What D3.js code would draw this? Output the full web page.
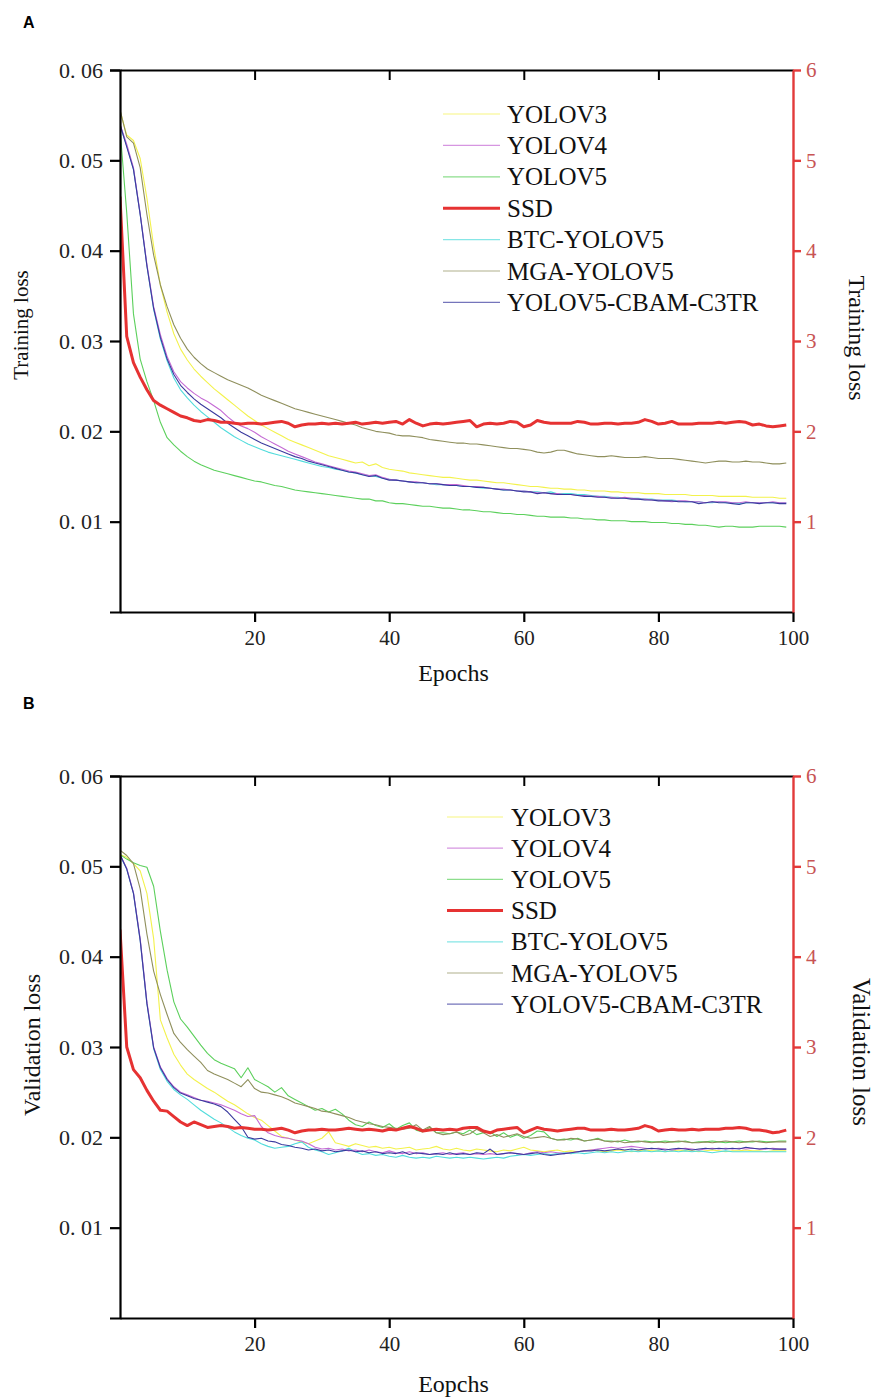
<!DOCTYPE html>
<html><head><meta charset="utf-8">
<script src="https://cdn.jsdelivr.net/npm/d3@7"></script>
<style>body{margin:0;background:#fff;} svg{display:block;}</style>
</head><body><svg id="chart" width="875" height="1397"></svg>
<script>
const seriesNames = ["YOLOV3","YOLOV4","YOLOV5","SSD","BTC-YOLOV5","MGA-YOLOV5","YOLOV5-CBAM-C3TR"];
const seriesColors = ["#f3f24c","#c46ad4","#5cd05c","#e63232","#52dcdc","#8f8f5c","#3a3a9e"];
const leftTicks = [0.01,0.02,0.03,0.04,0.05,0.06];
const leftTickLabels = ["0. 01","0. 02","0. 03","0. 04","0. 05","0. 06"];
const rightTicks = [1,2,3,4,5,6];
const xTicks = [20,40,60,80,100];

// ---- Training loss (A) ----
const trainYOLOV3 = [0.0555,0.0528,0.0522,0.0502,0.0458,0.0405,0.0362,0.0332,0.0308,0.0291,0.0279,0.0269,0.0261,0.0254,0.0247,0.0241,0.0235,0.0229,0.0223,0.0217,
0.0212,0.0207,0.0203,0.0199,0.0195,0.0191,0.0188,0.0185,0.0182,0.0179,0.0176,0.0173,0.0171,0.0169,0.0167,0.0165,0.0166,0.0162,0.0164,0.0160,
0.0158,0.0157,0.0156,0.0154,0.0153,0.0152,0.0151,0.0150,0.0149,0.0149,0.0148,0.0147,0.0146,0.0146,0.0145,0.0144,0.0143,0.0143,0.0142,0.0141,
0.0140,0.0139,0.0139,0.0138,0.0137,0.0137,0.0136,0.0136,0.0135,0.0135,0.0134,0.0134,0.0134,0.0133,0.0133,0.0132,0.0132,0.0132,0.0131,0.0131,
0.0131,0.0130,0.0130,0.0130,0.0130,0.0129,0.0129,0.0129,0.0129,0.0128,0.0128,0.0128,0.0128,0.0128,0.0127,0.0127,0.0127,0.0127,0.0126,0.0126];
const trainYOLOV4 = [0.0540,0.0518,0.0492,0.0441,0.0385,0.0338,0.0307,0.0283,0.0266,0.0255,0.0248,0.0242,0.0237,0.0233,0.0228,0.0223,0.0216,0.0210,0.0206,0.0203,
0.0199,0.0194,0.0190,0.0186,0.0182,0.0178,0.0175,0.0172,0.0169,0.0166,0.0164,0.0162,0.0160,0.0158,0.0156,0.0155,0.0153,0.0151,0.0152,0.0149,
0.0147,0.0146,0.0145,0.0144,0.0144,0.0143,0.0142,0.0142,0.0141,0.0141,0.0141,0.0140,0.0139,0.0139,0.0138,0.0137,0.0136,0.0136,0.0135,0.0134,
0.0134,0.0133,0.0132,0.0132,0.0131,0.0131,0.0130,0.0130,0.0129,0.0129,0.0128,0.0128,0.0127,0.0127,0.0126,0.0127,0.0126,0.0125,0.0125,0.0124,
0.0124,0.0123,0.0122,0.0123,0.0123,0.0122,0.0122,0.0121,0.0122,0.0122,0.0122,0.0121,0.0121,0.0122,0.0121,0.0121,0.0121,0.0122,0.0121,0.0121];
const trainYOLOV5 = [0.0535,0.0442,0.0330,0.0280,0.0255,0.0234,0.0210,0.0193,0.0185,0.0178,0.0172,0.0167,0.0163,0.0160,0.0157,0.0155,0.0153,0.0151,0.0149,0.0147,
0.0145,0.0144,0.0142,0.0140,0.0139,0.0137,0.0135,0.0134,0.0133,0.0132,0.0131,0.0130,0.0129,0.0128,0.0127,0.0126,0.0125,0.0125,0.0123,0.0123,
0.0121,0.0120,0.0120,0.0119,0.0118,0.0117,0.0117,0.0116,0.0115,0.0115,0.0114,0.0113,0.0113,0.0112,0.0111,0.0111,0.0110,0.0109,0.0109,0.0108,
0.0108,0.0107,0.0106,0.0106,0.0105,0.0105,0.0105,0.0104,0.0104,0.0103,0.0103,0.0102,0.0102,0.0101,0.0101,0.0101,0.0100,0.0100,0.0100,0.0099,
0.0099,0.0099,0.0098,0.0098,0.0097,0.0097,0.0096,0.0096,0.0095,0.0094,0.0095,0.0095,0.0094,0.0094,0.0094,0.0095,0.0095,0.0095,0.0095,0.0094];
const trainSSD = [4.60,3.05,2.76,2.60,2.46,2.34,2.29,2.25,2.21,2.17,2.15,2.12,2.11,2.13,2.12,2.10,2.10,2.09,2.08,2.09,
2.09,2.08,2.09,2.10,2.11,2.09,2.05,2.07,2.08,2.08,2.09,2.08,2.09,2.08,2.09,2.10,2.08,2.09,2.10,2.09,
2.10,2.11,2.08,2.13,2.09,2.06,2.08,2.09,2.08,2.09,2.10,2.11,2.12,2.05,2.08,2.09,2.08,2.09,2.11,2.10,
2.05,2.07,2.12,2.10,2.09,2.09,2.09,2.09,2.11,2.10,2.08,2.08,2.09,2.09,2.08,2.09,2.09,2.10,2.13,2.11,
2.08,2.09,2.11,2.08,2.08,2.08,2.09,2.09,2.09,2.10,2.09,2.10,2.11,2.10,2.07,2.08,2.06,2.05,2.06,2.07];
const trainBTC = [0.0538,0.0516,0.0490,0.0440,0.0383,0.0335,0.0302,0.0278,0.0259,0.0246,0.0237,0.0229,0.0222,0.0216,0.0210,0.0204,0.0199,0.0194,0.0190,0.0186,
0.0183,0.0180,0.0177,0.0175,0.0173,0.0171,0.0169,0.0167,0.0165,0.0163,0.0161,0.0160,0.0158,0.0157,0.0155,0.0154,0.0152,0.0151,0.0150,0.0148,
0.0147,0.0146,0.0145,0.0144,0.0143,0.0143,0.0142,0.0141,0.0141,0.0140,0.0140,0.0139,0.0139,0.0138,0.0137,0.0137,0.0136,0.0135,0.0135,0.0134,
0.0134,0.0133,0.0133,0.0132,0.0133,0.0131,0.0131,0.0131,0.0130,0.0130,0.0129,0.0128,0.0128,0.0127,0.0127,0.0126,0.0126,0.0126,0.0125,0.0125,
0.0124,0.0124,0.0124,0.0123,0.0122,0.0122,0.0122,0.0121,0.0121,0.0122,0.0121,0.0121,0.0120,0.0121,0.0121,0.0121,0.0121,0.0121,0.0121,0.0121];
const trainMGA = [0.0556,0.0526,0.0519,0.0492,0.0440,0.0395,0.0362,0.0338,0.0318,0.0303,0.0291,0.0282,0.0275,0.0269,0.0265,0.0261,0.0257,0.0254,0.0251,0.0248,
0.0244,0.0240,0.0237,0.0234,0.0231,0.0228,0.0225,0.0223,0.0221,0.0219,0.0217,0.0215,0.0213,0.0211,0.0209,0.0207,0.0204,0.0202,0.0200,0.0199,
0.0198,0.0196,0.0195,0.0195,0.0194,0.0193,0.0191,0.0190,0.0189,0.0188,0.0187,0.0187,0.0186,0.0186,0.0185,0.0184,0.0183,0.0182,0.0181,0.0181,
0.0180,0.0179,0.0177,0.0176,0.0177,0.0179,0.0179,0.0177,0.0175,0.0174,0.0173,0.0172,0.0172,0.0173,0.0172,0.0171,0.0171,0.0171,0.0172,0.0171,
0.0170,0.0170,0.0170,0.0169,0.0168,0.0167,0.0166,0.0165,0.0166,0.0167,0.0167,0.0166,0.0166,0.0167,0.0166,0.0166,0.0165,0.0164,0.0164,0.0165];
const trainCBAM = [0.0540,0.0515,0.0490,0.0440,0.0383,0.0336,0.0304,0.0280,0.0263,0.0251,0.0243,0.0236,0.0230,0.0225,0.0220,0.0215,0.0209,0.0204,0.0199,0.0195,
0.0191,0.0187,0.0184,0.0181,0.0178,0.0175,0.0172,0.0170,0.0167,0.0165,0.0163,0.0161,0.0159,0.0157,0.0155,0.0154,0.0152,0.0150,0.0151,0.0148,
0.0146,0.0146,0.0145,0.0144,0.0143,0.0143,0.0142,0.0142,0.0141,0.0140,0.0140,0.0139,0.0139,0.0138,0.0138,0.0137,0.0136,0.0135,0.0135,0.0134,
0.0133,0.0133,0.0131,0.0132,0.0131,0.0130,0.0130,0.0130,0.0129,0.0128,0.0128,0.0127,0.0127,0.0126,0.0126,0.0126,0.0125,0.0125,0.0124,0.0124,
0.0123,0.0123,0.0123,0.0122,0.0122,0.0122,0.0120,0.0121,0.0122,0.0121,0.0121,0.0120,0.0119,0.0121,0.0121,0.0120,0.0121,0.0121,0.0120,0.0120];

// ---- Validation loss (B) ----
const valYOLOV3 = [0.0513,0.0510,0.0503,0.0495,0.0470,0.0420,0.0330,0.0310,0.0292,0.0280,0.0270,0.0264,0.0259,0.0254,0.0250,0.0245,0.0240,0.0236,0.0231,0.0226,
0.0222,0.0219,0.0213,0.0207,0.0201,0.0199,0.0197,0.0195,0.0193,0.0196,0.0199,0.0206,0.0194,0.0192,0.0190,0.0193,0.0191,0.0189,0.0190,0.0188,
0.0189,0.0187,0.0188,0.0189,0.0186,0.0187,0.0188,0.0190,0.0187,0.0186,0.0188,0.0186,0.0185,0.0187,0.0186,0.0185,0.0184,0.0186,0.0185,0.0187,
0.0189,0.0186,0.0185,0.0184,0.0185,0.0186,0.0184,0.0185,0.0184,0.0185,0.0186,0.0185,0.0184,0.0185,0.0186,0.0185,0.0184,0.0185,0.0186,0.0185,
0.0185,0.0184,0.0185,0.0186,0.0185,0.0185,0.0184,0.0185,0.0186,0.0185,0.0184,0.0185,0.0185,0.0186,0.0185,0.0185,0.0184,0.0185,0.0185,0.0185];
const valYOLOV4 = [0.0513,0.0498,0.0471,0.0420,0.0350,0.0300,0.0278,0.0265,0.0256,0.0250,0.0247,0.0244,0.0241,0.0240,0.0238,0.0236,0.0233,0.0230,0.0226,0.0223,
0.0224,0.0212,0.0205,0.0202,0.0200,0.0199,0.0197,0.0196,0.0193,0.0189,0.0187,0.0188,0.0186,0.0187,0.0185,0.0186,0.0184,0.0186,0.0184,0.0183,
0.0185,0.0183,0.0182,0.0184,0.0182,0.0183,0.0181,0.0182,0.0183,0.0181,0.0182,0.0183,0.0181,0.0182,0.0181,0.0182,0.0181,0.0182,0.0183,0.0182,
0.0181,0.0183,0.0184,0.0183,0.0184,0.0183,0.0182,0.0183,0.0184,0.0185,0.0186,0.0187,0.0188,0.0189,0.0188,0.0189,0.0190,0.0189,0.0188,0.0187,
0.0188,0.0187,0.0186,0.0187,0.0188,0.0187,0.0186,0.0187,0.0188,0.0187,0.0188,0.0187,0.0188,0.0187,0.0188,0.0187,0.0187,0.0188,0.0187,0.0187];
const valYOLOV5 = [0.0513,0.0508,0.0504,0.0501,0.0499,0.0478,0.0428,0.0385,0.0350,0.0331,0.0322,0.0312,0.0302,0.0293,0.0286,0.0282,0.0279,0.0276,0.0266,0.0277,
0.0264,0.0260,0.0256,0.0250,0.0255,0.0246,0.0242,0.0238,0.0234,0.0230,0.0232,0.0228,0.0231,0.0226,0.0219,0.0214,0.0212,0.0217,0.0213,0.0211,
0.0215,0.0209,0.0213,0.0216,0.0208,0.0206,0.0211,0.0205,0.0205,0.0204,0.0206,0.0204,0.0208,0.0203,0.0205,0.0206,0.0201,0.0205,0.0200,0.0203,
0.0199,0.0202,0.0207,0.0206,0.0199,0.0197,0.0198,0.0197,0.0199,0.0196,0.0197,0.0199,0.0196,0.0196,0.0195,0.0197,0.0195,0.0195,0.0196,0.0195,
0.0195,0.0196,0.0195,0.0195,0.0196,0.0194,0.0195,0.0195,0.0196,0.0195,0.0194,0.0195,0.0196,0.0195,0.0195,0.0196,0.0195,0.0195,0.0196,0.0196];
const valSSD = [4.30,3.00,2.75,2.66,2.52,2.40,2.30,2.29,2.23,2.17,2.13,2.17,2.14,2.11,2.12,2.13,2.12,2.10,2.11,2.10,
2.09,2.09,2.08,2.09,2.10,2.08,2.05,2.07,2.08,2.08,2.09,2.08,2.08,2.09,2.10,2.09,2.08,2.09,2.08,2.07,
2.09,2.08,2.10,2.12,2.10,2.07,2.08,2.09,2.08,2.09,2.08,2.10,2.11,2.11,2.07,2.05,2.08,2.09,2.10,2.11,
2.05,2.08,2.11,2.09,2.08,2.07,2.08,2.09,2.10,2.10,2.08,2.08,2.08,2.09,2.08,2.08,2.09,2.10,2.13,2.11,
2.07,2.08,2.09,2.08,2.08,2.09,2.08,2.09,2.09,2.09,2.10,2.10,2.11,2.10,2.08,2.08,2.07,2.05,2.06,2.08];
const valBTC = [0.0512,0.0497,0.0470,0.0418,0.0348,0.0298,0.0275,0.0262,0.0253,0.0247,0.0242,0.0236,0.0230,0.0225,0.0220,0.0216,0.0211,0.0206,0.0202,0.0199,
0.0197,0.0193,0.0190,0.0188,0.0189,0.0190,0.0193,0.0195,0.0189,0.0186,0.0184,0.0181,0.0183,0.0185,0.0188,0.0184,0.0181,0.0182,0.0180,0.0181,
0.0179,0.0178,0.0180,0.0178,0.0177,0.0178,0.0177,0.0179,0.0178,0.0177,0.0178,0.0177,0.0178,0.0177,0.0176,0.0177,0.0178,0.0177,0.0179,0.0180,
0.0181,0.0180,0.0181,0.0182,0.0181,0.0182,0.0183,0.0182,0.0183,0.0182,0.0183,0.0184,0.0183,0.0184,0.0183,0.0184,0.0185,0.0184,0.0185,0.0184,
0.0185,0.0184,0.0185,0.0184,0.0185,0.0184,0.0185,0.0184,0.0183,0.0184,0.0185,0.0184,0.0184,0.0184,0.0184,0.0184,0.0184,0.0184,0.0184,0.0184];
const valMGA = [0.0518,0.0512,0.0503,0.0475,0.0425,0.0384,0.0358,0.0336,0.0315,0.0305,0.0297,0.0290,0.0283,0.0274,0.0270,0.0267,0.0264,0.0260,0.0256,0.0264,
0.0254,0.0250,0.0249,0.0247,0.0245,0.0242,0.0238,0.0236,0.0234,0.0232,0.0229,0.0228,0.0226,0.0224,0.0222,0.0219,0.0217,0.0215,0.0214,0.0212,
0.0211,0.0210,0.0209,0.0210,0.0214,0.0208,0.0212,0.0205,0.0203,0.0204,0.0206,0.0202,0.0204,0.0209,0.0205,0.0201,0.0203,0.0200,0.0202,0.0204,
0.0201,0.0199,0.0200,0.0201,0.0199,0.0197,0.0197,0.0199,0.0198,0.0196,0.0197,0.0198,0.0196,0.0195,0.0196,0.0194,0.0195,0.0196,0.0195,0.0194,
0.0195,0.0194,0.0195,0.0196,0.0195,0.0194,0.0194,0.0195,0.0194,0.0195,0.0196,0.0195,0.0194,0.0195,0.0196,0.0195,0.0194,0.0195,0.0195,0.0195];
const valCBAM = [0.0513,0.0497,0.0470,0.0418,0.0348,0.0299,0.0277,0.0264,0.0255,0.0249,0.0246,0.0243,0.0241,0.0239,0.0237,0.0234,0.0228,0.0220,0.0212,0.0200,
0.0198,0.0199,0.0196,0.0195,0.0192,0.0191,0.0189,0.0188,0.0186,0.0187,0.0185,0.0186,0.0184,0.0185,0.0186,0.0184,0.0185,0.0183,0.0184,0.0182,
0.0183,0.0182,0.0184,0.0181,0.0183,0.0182,0.0181,0.0182,0.0181,0.0183,0.0181,0.0182,0.0181,0.0183,0.0182,0.0187,0.0181,0.0182,0.0183,0.0182,
0.0181,0.0182,0.0183,0.0181,0.0180,0.0181,0.0182,0.0183,0.0184,0.0185,0.0185,0.0186,0.0185,0.0186,0.0187,0.0186,0.0187,0.0186,0.0187,0.0188,
0.0187,0.0186,0.0187,0.0188,0.0187,0.0186,0.0187,0.0188,0.0187,0.0188,0.0187,0.0188,0.0187,0.0189,0.0188,0.0187,0.0188,0.0187,0.0187,0.0187];

const trainSeries = [trainYOLOV3,trainYOLOV4,trainYOLOV5,trainSSD,trainBTC,trainMGA,trainCBAM];
const valSeries = [valYOLOV3,valYOLOV4,valYOLOV5,valSSD,valBTC,valMGA,valCBAM];
const drawOrder = [0,2,5,4,1,6,3];

const svg = d3.select("#chart");
const SERIF = "'Liberation Serif','Times New Roman',serif";

function panel(cfg, data) {
  const x = d3.scaleLinear().domain([0,100]).range([cfg.left, cfg.right]);
  const yL = d3.scaleLinear().domain([0,0.06]).range([cfg.bottom, cfg.top]);
  const yR = d3.scaleLinear().domain([0,6]).range([cfg.bottom, cfg.top]);
  const g = svg.append("g");

  g.append("text").attr("x", 23).attr("y", cfg.letterY).text(cfg.letter)
    .attr("font-family","'Liberation Sans',Arial,sans-serif").attr("font-weight","bold").attr("font-size",16);

  const clipId = "clip" + cfg.letter;
  svg.append("clipPath").attr("id", clipId).append("rect")
    .attr("x", cfg.left).attr("y", cfg.top).attr("width", cfg.right-cfg.left).attr("height", cfg.bottom-cfg.top);

  const lines = g.append("g").attr("clip-path", `url(#${clipId})`);
  drawOrder.forEach(i => {
    const isSSD = seriesNames[i] === "SSD";
    const yS = isSSD ? yR : yL;
    const line = d3.line().x((d,k) => x(k)).y(d => yS(d));
    lines.append("path").datum(data[i]).attr("d", line)
      .attr("fill","none").attr("stroke", seriesColors[i])
      .attr("stroke-width", isSSD ? 3 : 1.1).attr("stroke-linejoin","round");
  });

  const axL = g.append("g").attr("transform", `translate(${cfg.left},0)`)
    .call(d3.axisLeft(yL).tickValues(leftTicks).tickSize(10).tickFormat((d,i) => leftTickLabels[i]));
  axL.select(".domain").attr("stroke","#000").attr("stroke-width",2.2);
  axL.selectAll(".tick line").attr("stroke","#000").attr("stroke-width",2.2);
  axL.selectAll(".tick text").attr("font-family",SERIF).attr("font-size",22).attr("fill","#222").attr("x",-17);

  const axB = g.append("g").attr("transform", `translate(0,${cfg.bottom})`)
    .call(d3.axisBottom(x).tickValues(xTicks).tickSize(10).tickSizeOuter(0));
  axB.select(".domain").attr("stroke","#000").attr("stroke-width",2.2);
  axB.selectAll(".tick line").attr("stroke","#000").attr("stroke-width",2.2);
  axB.selectAll(".tick text").attr("font-family",SERIF).attr("font-size",21).attr("fill","#222").attr("y",18);

  const axT = g.append("g").attr("transform", `translate(0,${cfg.top})`)
    .call(d3.axisTop(x).tickValues(xTicks.slice(0,4)).tickSize(-10).tickSizeOuter(0).tickFormat(""));
  axT.select(".domain").attr("stroke","#000").attr("stroke-width",2.2);
  axT.selectAll(".tick line").attr("stroke","#000").attr("stroke-width",2);

  const axR = g.append("g").attr("transform", `translate(${cfg.right},0)`)
    .call(d3.axisRight(yR).tickValues(rightTicks).tickSize(8).tickSizeOuter(0).tickFormat(d3.format("d")));
  axR.select(".domain").attr("stroke","#e23a3a").attr("stroke-width",2.4);
  axR.selectAll(".tick line").attr("stroke","#e23a3a").attr("stroke-width",2.4);
  axR.selectAll(".tick text").attr("font-family",SERIF).attr("font-size",21).attr("fill","#c85454").attr("x",13);

  g.append("text").attr("x", (cfg.left+cfg.right)/2 - 3).attr("y", cfg.xTitleY).attr("text-anchor","middle")
    .attr("font-family",SERIF).attr("font-size",24).attr("fill","#111").text(cfg.xTitle);
  g.append("text").attr("transform", `translate(${cfg.lTitleX},${cfg.lTitleY}) rotate(-90)`)
    .attr("text-anchor","middle").attr("dominant-baseline","central")
    .attr("font-family",SERIF).attr("font-size",cfg.lTitleSize).attr("fill","#111").text(cfg.yTitle);
  g.append("text").attr("transform", `translate(${cfg.rTitleX},${cfg.rTitleY}) rotate(90)`)
    .attr("text-anchor","middle").attr("dominant-baseline","central")
    .attr("font-family",SERIF).attr("font-size",cfg.rTitleSize).attr("fill","#111").text(cfg.yTitle);

  const lg = g.append("g");
  seriesNames.forEach((name, i) => {
    const yy = cfg.legY + i*cfg.legDy;
    lg.append("line").attr("x1", cfg.legX0).attr("x2", cfg.legX1).attr("y1", yy).attr("y2", yy)
      .attr("stroke", seriesColors[i]).attr("stroke-width", name === "SSD" ? 3 : 1.2)
      .attr("stroke-opacity", name === "SSD" ? 1 : 0.7);
    lg.append("text").attr("x", cfg.legTx).attr("y", yy).attr("dominant-baseline","central")
      .attr("font-family",SERIF).attr("font-size",25).attr("fill","#111").text(name);
  });
}

panel({letter:"A", letterY:28, top:70, bottom:612, left:120, right:793,
  xTitle:"Epochs", xTitleY:681, yTitle:"Training loss",
  lTitleX:21, lTitleY:325, lTitleSize:21, rTitleX:857, rTitleY:338, rTitleSize:24,
  legX0:443, legX1:500, legTx:507, legY:114, legDy:31.4}, trainSeries);

panel({letter:"B", letterY:709, top:776, bottom:1318, left:120, right:793,
  xTitle:"Eopchs", xTitleY:1392, yTitle:"Validation loss",
  lTitleX:32, lTitleY:1045, lTitleSize:24, rTitleX:861, rTitleY:1052, rTitleSize:25,
  legX0:447, legX1:503, legTx:511, legY:817, legDy:31.2}, valSeries);
</script>
</body></html>
